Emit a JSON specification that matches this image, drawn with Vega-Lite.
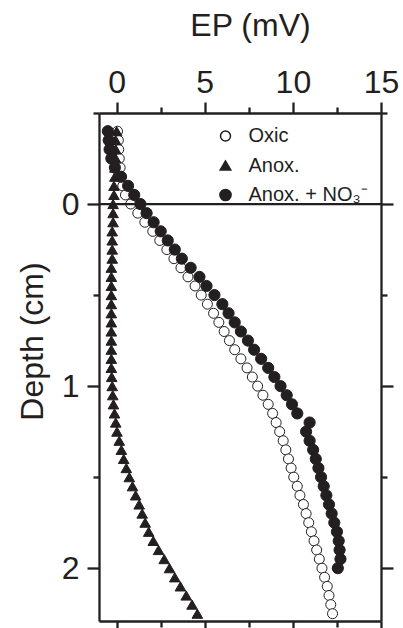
{
  "$schema": "https://vega.github.io/schema/vega-lite/v6.json",
  "width": 282,
  "height": 508,
  "autosize": {"type": "none"},
  "padding": {"left": 99, "top": 113, "right": 22, "bottom": 7},
  "background": "white",
  "config": {
    "view": {"stroke": null},
    "font": "Liberation Sans",
    "axis": {
      "domainColor": "#231f20", "domainWidth": 2.3, "tickColor": "#231f20", "tickWidth": 2.3,
      "labelColor": "#231f20", "titleColor": "#231f20", "labelFont": "Liberation Sans", "titleFont": "Liberation Sans",
      "labelFontSize": 32, "titleFontSize": 32, "titleFontWeight": "normal", "grid": false,
      "labelFlush": false, "labelOverlap": false
    },
    "legend": {
      "orient": "none", "legendX": 116.5, "legendY": 13, "title": null, "padding": 0,
      "labelFontSize": 20, "labelFont": "Liberation Sans", "labelColor": "#231f20", "labelOffset": 13,
      "rowPadding": 9.5
    }
  },
  "data": {"values": [
    {"s": "Oxic", "d": -0.40, "ep": 0.05}, {"s": "Oxic", "d": -0.35, "ep": 0.1}, {"s": "Oxic", "d": -0.30, "ep": 0.12},
    {"s": "Oxic", "d": -0.25, "ep": 0.15}, {"s": "Oxic", "d": -0.20, "ep": 0.2}, {"s": "Oxic", "d": -0.15, "ep": 0.25},
    {"s": "Oxic", "d": -0.10, "ep": 0.35}, {"s": "Oxic", "d": -0.05, "ep": 0.5}, {"s": "Oxic", "d": 0.00, "ep": 0.8},
    {"s": "Oxic", "d": 0.05, "ep": 1.2}, {"s": "Oxic", "d": 0.10, "ep": 1.6}, {"s": "Oxic", "d": 0.15, "ep": 2.05},
    {"s": "Oxic", "d": 0.20, "ep": 2.45}, {"s": "Oxic", "d": 0.25, "ep": 2.85}, {"s": "Oxic", "d": 0.30, "ep": 3.25},
    {"s": "Oxic", "d": 0.35, "ep": 3.65}, {"s": "Oxic", "d": 0.40, "ep": 4.05}, {"s": "Oxic", "d": 0.45, "ep": 4.45},
    {"s": "Oxic", "d": 0.50, "ep": 4.8}, {"s": "Oxic", "d": 0.55, "ep": 5.15}, {"s": "Oxic", "d": 0.60, "ep": 5.5},
    {"s": "Oxic", "d": 0.65, "ep": 5.8}, {"s": "Oxic", "d": 0.70, "ep": 6.1}, {"s": "Oxic", "d": 0.75, "ep": 6.4},
    {"s": "Oxic", "d": 0.80, "ep": 6.7}, {"s": "Oxic", "d": 0.85, "ep": 7.05}, {"s": "Oxic", "d": 0.90, "ep": 7.4},
    {"s": "Oxic", "d": 0.95, "ep": 7.7}, {"s": "Oxic", "d": 1.00, "ep": 8.0}, {"s": "Oxic", "d": 1.05, "ep": 8.3},
    {"s": "Oxic", "d": 1.10, "ep": 8.6}, {"s": "Oxic", "d": 1.15, "ep": 8.85}, {"s": "Oxic", "d": 1.20, "ep": 9.05},
    {"s": "Oxic", "d": 1.25, "ep": 9.25}, {"s": "Oxic", "d": 1.30, "ep": 9.45}, {"s": "Oxic", "d": 1.35, "ep": 9.6},
    {"s": "Oxic", "d": 1.40, "ep": 9.75}, {"s": "Oxic", "d": 1.45, "ep": 9.9}, {"s": "Oxic", "d": 1.50, "ep": 10.05},
    {"s": "Oxic", "d": 1.55, "ep": 10.25}, {"s": "Oxic", "d": 1.60, "ep": 10.4}, {"s": "Oxic", "d": 1.65, "ep": 10.6},
    {"s": "Oxic", "d": 1.70, "ep": 10.75}, {"s": "Oxic", "d": 1.75, "ep": 10.9}, {"s": "Oxic", "d": 1.80, "ep": 11.05},
    {"s": "Oxic", "d": 1.85, "ep": 11.2}, {"s": "Oxic", "d": 1.90, "ep": 11.35}, {"s": "Oxic", "d": 1.95, "ep": 11.5},
    {"s": "Oxic", "d": 2.00, "ep": 11.65}, {"s": "Oxic", "d": 2.05, "ep": 11.8}, {"s": "Oxic", "d": 2.10, "ep": 11.95},
    {"s": "Oxic", "d": 2.15, "ep": 12.05}, {"s": "Oxic", "d": 2.20, "ep": 12.15}, {"s": "Oxic", "d": 2.25, "ep": 12.25},

    {"s": "Anox.", "d": -0.40, "ep": 0.0}, {"s": "Anox.", "d": -0.35, "ep": -0.05}, {"s": "Anox.", "d": -0.30, "ep": -0.05},
    {"s": "Anox.", "d": -0.25, "ep": -0.05}, {"s": "Anox.", "d": -0.20, "ep": -0.1}, {"s": "Anox.", "d": -0.15, "ep": -0.1},
    {"s": "Anox.", "d": -0.10, "ep": -0.15}, {"s": "Anox.", "d": -0.05, "ep": -0.15}, {"s": "Anox.", "d": 0.00, "ep": -0.2},
    {"s": "Anox.", "d": 0.05, "ep": -0.2}, {"s": "Anox.", "d": 0.10, "ep": -0.2}, {"s": "Anox.", "d": 0.15, "ep": -0.25},
    {"s": "Anox.", "d": 0.20, "ep": -0.25}, {"s": "Anox.", "d": 0.25, "ep": -0.25}, {"s": "Anox.", "d": 0.30, "ep": -0.25},
    {"s": "Anox.", "d": 0.35, "ep": -0.3}, {"s": "Anox.", "d": 0.40, "ep": -0.3}, {"s": "Anox.", "d": 0.45, "ep": -0.3},
    {"s": "Anox.", "d": 0.50, "ep": -0.3}, {"s": "Anox.", "d": 0.55, "ep": -0.3}, {"s": "Anox.", "d": 0.60, "ep": -0.3},
    {"s": "Anox.", "d": 0.65, "ep": -0.3}, {"s": "Anox.", "d": 0.70, "ep": -0.3}, {"s": "Anox.", "d": 0.75, "ep": -0.3},
    {"s": "Anox.", "d": 0.80, "ep": -0.3}, {"s": "Anox.", "d": 0.85, "ep": -0.3}, {"s": "Anox.", "d": 0.90, "ep": -0.3},
    {"s": "Anox.", "d": 0.95, "ep": -0.28}, {"s": "Anox.", "d": 1.00, "ep": -0.25}, {"s": "Anox.", "d": 1.05, "ep": -0.22},
    {"s": "Anox.", "d": 1.10, "ep": -0.18}, {"s": "Anox.", "d": 1.15, "ep": -0.12}, {"s": "Anox.", "d": 1.20, "ep": -0.05},
    {"s": "Anox.", "d": 1.25, "ep": 0.02}, {"s": "Anox.", "d": 1.30, "ep": 0.15}, {"s": "Anox.", "d": 1.35, "ep": 0.27},
    {"s": "Anox.", "d": 1.40, "ep": 0.4}, {"s": "Anox.", "d": 1.45, "ep": 0.55}, {"s": "Anox.", "d": 1.50, "ep": 0.72},
    {"s": "Anox.", "d": 1.55, "ep": 0.9}, {"s": "Anox.", "d": 1.60, "ep": 1.08}, {"s": "Anox.", "d": 1.65, "ep": 1.28},
    {"s": "Anox.", "d": 1.70, "ep": 1.45}, {"s": "Anox.", "d": 1.75, "ep": 1.62}, {"s": "Anox.", "d": 1.80, "ep": 1.82},
    {"s": "Anox.", "d": 1.85, "ep": 2.08}, {"s": "Anox.", "d": 1.90, "ep": 2.38}, {"s": "Anox.", "d": 1.95, "ep": 2.7},
    {"s": "Anox.", "d": 2.00, "ep": 3.0}, {"s": "Anox.", "d": 2.05, "ep": 3.3}, {"s": "Anox.", "d": 2.10, "ep": 3.62},
    {"s": "Anox.", "d": 2.15, "ep": 3.95}, {"s": "Anox.", "d": 2.20, "ep": 4.28}, {"s": "Anox.", "d": 2.25, "ep": 4.58},

    {"s": "Anox. + NO₃⁻", "d": -0.40, "ep": -0.5}, {"s": "Anox. + NO₃⁻", "d": -0.35, "ep": -0.45}, {"s": "Anox. + NO₃⁻", "d": -0.30, "ep": -0.4},
    {"s": "Anox. + NO₃⁻", "d": -0.25, "ep": -0.3}, {"s": "Anox. + NO₃⁻", "d": -0.20, "ep": -0.1}, {"s": "Anox. + NO₃⁻", "d": -0.15, "ep": 0.25},
    {"s": "Anox. + NO₃⁻", "d": -0.10, "ep": 0.65}, {"s": "Anox. + NO₃⁻", "d": -0.05, "ep": 1.0}, {"s": "Anox. + NO₃⁻", "d": 0.00, "ep": 1.35},
    {"s": "Anox. + NO₃⁻", "d": 0.05, "ep": 1.7}, {"s": "Anox. + NO₃⁻", "d": 0.10, "ep": 2.1}, {"s": "Anox. + NO₃⁻", "d": 0.15, "ep": 2.5},
    {"s": "Anox. + NO₃⁻", "d": 0.20, "ep": 2.9}, {"s": "Anox. + NO₃⁻", "d": 0.25, "ep": 3.3}, {"s": "Anox. + NO₃⁻", "d": 0.30, "ep": 3.7},
    {"s": "Anox. + NO₃⁻", "d": 0.35, "ep": 4.2}, {"s": "Anox. + NO₃⁻", "d": 0.40, "ep": 4.7}, {"s": "Anox. + NO₃⁻", "d": 0.45, "ep": 5.1},
    {"s": "Anox. + NO₃⁻", "d": 0.50, "ep": 5.55}, {"s": "Anox. + NO₃⁻", "d": 0.55, "ep": 6.0}, {"s": "Anox. + NO₃⁻", "d": 0.60, "ep": 6.35},
    {"s": "Anox. + NO₃⁻", "d": 0.65, "ep": 6.7}, {"s": "Anox. + NO₃⁻", "d": 0.70, "ep": 7.05}, {"s": "Anox. + NO₃⁻", "d": 0.75, "ep": 7.45},
    {"s": "Anox. + NO₃⁻", "d": 0.80, "ep": 7.8}, {"s": "Anox. + NO₃⁻", "d": 0.85, "ep": 8.2}, {"s": "Anox. + NO₃⁻", "d": 0.90, "ep": 8.6},
    {"s": "Anox. + NO₃⁻", "d": 0.95, "ep": 8.95}, {"s": "Anox. + NO₃⁻", "d": 1.00, "ep": 9.3}, {"s": "Anox. + NO₃⁻", "d": 1.05, "ep": 9.65},
    {"s": "Anox. + NO₃⁻", "d": 1.10, "ep": 9.95}, {"s": "Anox. + NO₃⁻", "d": 1.15, "ep": 10.25}, {"s": "Anox. + NO₃⁻", "d": 1.20, "ep": 10.95},
    {"s": "Anox. + NO₃⁻", "d": 1.25, "ep": 10.75}, {"s": "Anox. + NO₃⁻", "d": 1.30, "ep": 10.95}, {"s": "Anox. + NO₃⁻", "d": 1.35, "ep": 11.15},
    {"s": "Anox. + NO₃⁻", "d": 1.40, "ep": 11.3}, {"s": "Anox. + NO₃⁻", "d": 1.45, "ep": 11.45}, {"s": "Anox. + NO₃⁻", "d": 1.50, "ep": 11.6},
    {"s": "Anox. + NO₃⁻", "d": 1.55, "ep": 11.75}, {"s": "Anox. + NO₃⁻", "d": 1.60, "ep": 11.9}, {"s": "Anox. + NO₃⁻", "d": 1.65, "ep": 12.05},
    {"s": "Anox. + NO₃⁻", "d": 1.70, "ep": 12.2}, {"s": "Anox. + NO₃⁻", "d": 1.75, "ep": 12.35}, {"s": "Anox. + NO₃⁻", "d": 1.80, "ep": 12.5},
    {"s": "Anox. + NO₃⁻", "d": 1.85, "ep": 12.6}, {"s": "Anox. + NO₃⁻", "d": 1.90, "ep": 12.65}, {"s": "Anox. + NO₃⁻", "d": 1.95, "ep": 12.7},
    {"s": "Anox. + NO₃⁻", "d": 2.00, "ep": 12.55}
  ]},
  "resolve": {"axis": {"x": "independent", "y": "independent"}},
  "layer": [
    {
      "mark": {"type": "point", "filled": true, "stroke": "#231f20", "strokeWidth": 1, "opacity": 1},
      "encoding": {
        "x": {"field": "ep", "type": "quantitative",
              "scale": {"domain": [-1, 15], "nice": false, "zero": false},
              "axis": {"orient": "top", "values": [0, 5, 10, 15], "tickSize": 11, "labelPadding": 3,
                       "title": "EP (mV)", "titleX": 151, "titleY": -78, "titleBaseline": "alphabetic", "titleAlign": "center"}},
        "y": {"field": "d", "type": "quantitative",
              "scale": {"domain": [-0.5, 2.29], "reverse": true, "nice": false, "zero": false},
              "axis": {"orient": "left", "values": [0, 1, 2], "tickSize": 12, "labelPadding": 8,
                       "title": "Depth (cm)", "titleX": -57, "titleY": 228, "titleAngle": -90, "titleBaseline": "alphabetic", "titleAlign": "center"}},
        "size": {"field": "s", "type": "nominal",
                 "scale": {"domain": ["Oxic", "Anox.", "Anox. + NO₃⁻"], "range": [100, 125, 100]},
                 "legend": {"encode": {"symbols": {"update": {"stroke": {"value": "#231f20"}, "strokeWidth": {"value": 1}}}}}},
        "shape": {"field": "s", "type": "nominal",
                  "scale": {"domain": ["Oxic", "Anox.", "Anox. + NO₃⁻"], "range": ["circle", "triangle-up", "circle"]},
                  "legend": {"encode": {"symbols": {"update": {"stroke": {"value": "#231f20"}, "strokeWidth": {"value": 1}}}}}},
        "fill": {"field": "s", "type": "nominal",
                 "scale": {"domain": ["Oxic", "Anox.", "Anox. + NO₃⁻"], "range": ["white", "#231f20", "#231f20"]},
                 "legend": {"encode": {"symbols": {"update": {"stroke": {"value": "#231f20"}, "strokeWidth": {"value": 1}}}}}}
      }
    },
    {
      "mark": {"type": "point", "opacity": 0},
      "encoding": {
        "x": {"field": "ep", "type": "quantitative", "scale": {"domain": [-1, 15], "nice": false, "zero": false},
              "axis": {"orient": "top", "values": [2.5, 7.5, 12.5], "tickSize": 6, "labels": false, "domain": false, "title": null}},
        "y": {"field": "d", "type": "quantitative", "scale": {"domain": [-0.5, 2.29], "reverse": true, "nice": false, "zero": false},
              "axis": {"orient": "left", "values": [-0.5, 0.5, 1.5], "tickSize": 6, "labels": false, "domain": false, "title": null}}
      }
    },
    {
      "mark": {"type": "point", "opacity": 0},
      "encoding": {
        "x": {"field": "ep", "type": "quantitative", "scale": {"domain": [-1, 15], "nice": false, "zero": false},
              "axis": {"orient": "bottom", "values": [0, 5, 10, 15], "tickSize": 11, "labels": false, "title": null}},
        "y": {"field": "d", "type": "quantitative", "scale": {"domain": [-0.5, 2.29], "reverse": true, "nice": false, "zero": false},
              "axis": {"orient": "right", "values": [0, 1, 2], "tickSize": 12, "labels": false, "title": null}}
      }
    },
    {
      "mark": {"type": "point", "opacity": 0},
      "encoding": {
        "x": {"field": "ep", "type": "quantitative", "scale": {"domain": [-1, 15], "nice": false, "zero": false},
              "axis": {"orient": "bottom", "values": [2.5, 7.5, 12.5], "tickSize": 6, "labels": false, "domain": false, "title": null}},
        "y": {"field": "d", "type": "quantitative", "scale": {"domain": [-0.5, 2.29], "reverse": true, "nice": false, "zero": false},
              "axis": {"orient": "right", "values": [-0.5, 0.5, 1.5], "tickSize": 6, "labels": false, "domain": false, "title": null}}
      }
    },
    {
      "data": {"values": [{"d": 0}]},
      "mark": {"type": "rule", "strokeWidth": 2.3, "color": "#231f20"},
      "encoding": {
        "y": {"field": "d", "type": "quantitative", "scale": {"domain": [-0.5, 2.29], "reverse": true, "nice": false, "zero": false}, "axis": null}
      }
    }
  ]
}
